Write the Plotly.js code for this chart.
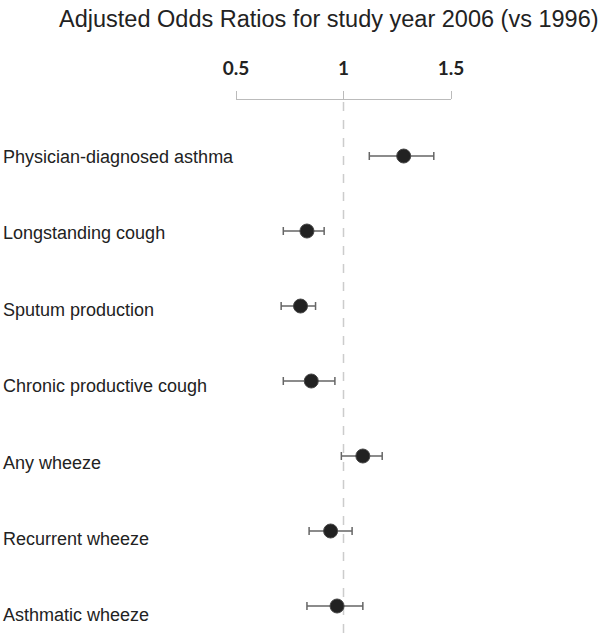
<!DOCTYPE html>
<html>
<head>
<meta charset="utf-8">
<script src="https://cdn.plot.ly/plotly-3.0.1.min.js"></script>
<style>
  html, body { margin: 0; padding: 0; background: #fff; }
  #chart { width: 600px; height: 633px; }
</style>
</head>
<body>
<div id="chart"></div>
<script>
// Outcomes, top to bottom
const outcomes = [
    'Physician-diagnosed asthma',
    'Longstanding cough',
    'Sputum production',
    'Chronic productive cough',
    'Any wheeze',
    'Recurrent wheeze',
    'Asthmatic wheeze'
];

// Adjusted odds ratios with 95% CI
const oddsRatio = [1.28, 0.83, 0.80, 0.85, 1.09, 0.94, 0.97];
const ciLow     = [1.12, 0.72, 0.71, 0.72, 0.99, 0.84, 0.83];
const ciHigh    = [1.42, 0.91, 0.87, 0.96, 1.18, 1.04, 1.09];

const tickValues = [0.5, 1, 1.5];
const tickLabels = ['0.5', '1', '1.5'];

const trace = {
    x: oddsRatio,
    y: outcomes,
    type: 'scatter',
    mode: 'markers',
    marker: {
        size: 14,
        color: '#222222',
        line: { color: '#444444', width: 1 }
    },
    error_x: {
        type: 'data',
        symmetric: false,
        array: ciHigh.map((h, i) => h - oddsRatio[i]),
        arrayminus: ciLow.map((l, i) => oddsRatio[i] - l),
        color: '#666666',
        thickness: 1.5,
        width: 4
    },
    cliponaxis: false,
    hoverinfo: 'x+y'
};

// row labels on the left (they drift a little below the points in the original)
const annotations = outcomes.map((name, i) => ({
    text: name,
    x: 0,
    xref: 'paper',
    xshift: -235,
    xanchor: 'left',
    y: name,
    yref: 'y',
    yshift: -1 - 1.4 * i,
    showarrow: false,
    font: { family: 'Liberation Sans, Arial, sans-serif', size: 18, color: '#222' }
}));

const layout = {
    width: 600,
    height: 633,
    margin: { l: 236, r: 149, t: 100, b: 0 },
    paper_bgcolor: '#ffffff',
    plot_bgcolor: '#ffffff',
    showlegend: false,
    title: {
        text: 'Adjusted Odds Ratios for study year 2006 (vs 1996)',
        x: 0.548,
        xanchor: 'center',
        y: 0.971,
        yanchor: 'middle',
        font: { family: 'Liberation Sans, Arial, sans-serif', size: 23.5, color: '#222' }
    },
    xaxis: {
        side: 'top',
        range: [0.5, 1.5],
        tickvals: tickValues,
        ticktext: tickLabels,
        ticks: 'outside',
        ticklen: 8,
        tickcolor: '#bbbbbb',
        showline: true,
        linecolor: '#bbbbbb',
        linewidth: 1,
        showgrid: false,
        zeroline: false,
        ticklabelstandoff: 8,
        tickfont: { family: 'Lato, sans-serif', size: 19, color: '#222', weight: 'bold' }
    },
    yaxis: {
        type: 'category',
        categoryorder: 'array',
        categoryarray: outcomes,
        range: [6.36, -0.747],
        showticklabels: false,
        showgrid: false,
        zeroline: false,
        showline: false,
        ticks: ''
    },
    shapes: [{
        type: 'line',
        xref: 'x',
        yref: 'paper',
        x0: 1, x1: 1,
        y0: 0, y1: 1,
        layer: 'below',
        line: { color: '#cccccc', width: 1.5, dash: 'dash' }
    }],
    annotations: annotations
};

Plotly.newPlot('chart', [trace], layout, { displayModeBar: false, staticPlot: true });
</script>
</body>
</html>
